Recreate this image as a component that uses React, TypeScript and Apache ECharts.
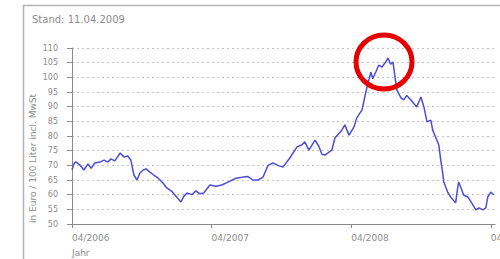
import React, { useEffect, useRef } from 'react';
import * as echarts from 'echarts';

const dates = [
  '2006-04-01','2006-04-06','2006-04-11','2006-04-22','2006-05-02','2006-05-13','2006-05-21','2006-05-31',
  '2006-06-13','2006-06-24','2006-07-04','2006-07-12','2006-07-22','2006-08-05','2006-08-15','2006-08-25',
  '2006-09-02','2006-09-10','2006-09-18','2006-09-26','2006-10-04','2006-10-12','2006-10-22','2006-11-01',
  '2006-11-12','2006-11-25','2006-12-05','2006-12-19','2007-01-01','2007-01-11','2007-01-19','2007-01-27',
  '2007-02-09','2007-02-19','2007-03-02','2007-03-12','2007-03-28','2007-04-13','2007-04-28','2007-05-14',
  '2007-06-04','2007-06-20','2007-07-05','2007-07-18','2007-08-01','2007-08-14','2007-08-27','2007-09-09',
  '2007-09-22','2007-10-05','2007-10-23','2007-11-11','2007-11-24','2007-12-01','2007-12-12','2007-12-28',
  '2008-01-07','2008-01-15','2008-01-23','2008-02-10','2008-02-18','2008-03-07','2008-03-15','2008-03-26',
  '2008-04-08','2008-04-15','2008-04-29','2008-05-09','2008-05-14','2008-05-22','2008-05-27','2008-06-04',
  '2008-06-12','2008-06-20','2008-06-30','2008-07-06','2008-07-13','2008-07-19','2008-07-24','2008-07-29',
  '2008-08-09','2008-08-16','2008-08-24','2008-09-04','2008-09-12','2008-09-19','2008-09-30','2008-10-08',
  '2008-10-16','2008-10-26','2008-10-31','2008-11-08','2008-11-16','2008-11-21','2008-11-26','2008-11-29',
  '2008-12-09','2008-12-17','2008-12-30','2009-01-05','2009-01-07','2009-01-12','2009-01-20','2009-01-31',
  '2009-02-05','2009-02-13','2009-02-21','2009-03-01','2009-03-11','2009-03-19','2009-03-24','2009-04-01',
  '2009-04-09'
];

const prices = [
  68.5, 70.5, 71.2, 70.1, 68.4, 70.5, 69.0, 70.8,
  71.1, 71.8, 71.1, 72.2, 71.5, 74.2, 72.8, 73.2,
  71.8, 66.7, 65.0, 67.4, 68.4, 68.8, 67.7, 66.7,
  65.7, 64.0, 62.3, 61.0, 59.0, 57.5, 59.5, 60.6,
  60.0, 61.3, 60.3, 60.6, 63.3, 62.9, 63.3, 64.3,
  65.6, 65.9, 66.2, 65.0, 65.0, 66.0, 70.0, 70.8,
  70.0, 69.4, 72.5, 76.3, 77.0, 78.0, 75.2, 78.6,
  76.5, 73.8, 73.5, 75.2, 79.3, 82.0, 83.8, 80.3,
  83.1, 86.1, 88.9, 95.0, 97.5, 101.8, 99.5, 101.8,
  104.2, 103.5, 105.2, 106.6, 104.5, 105.2, 100.5, 95.7,
  93.0, 92.3, 93.8, 92.3, 91.0, 89.9, 93.3, 89.9,
  84.8, 85.4, 82.0, 79.5, 76.9, 71.8, 67.4, 64.3,
  60.9, 59.2, 57.2, 63.0, 64.3, 62.6, 59.9, 59.2,
  58.2, 56.5, 54.8, 55.5, 54.8, 55.5, 59.2, 60.9,
  59.9
];

const xTickDates = ['2006-04-01', '2007-04-01', '2008-04-01', '2009-04-01'];
const xMinDate = '2006-04-01';
const xMaxDate = '2009-04-12';
const yMin = 50;
const yMax = 110;
const yStep = 5;
const standText = 'Stand: 11.04.2009';
const yAxisName = 'in Euro / 100 Liter incl. MwSt';
const xAxisName = 'Jahr';

const FONT = '"DejaVu Sans", Verdana, sans-serif';
const DAY = 86400000;
const T0 = Date.parse(xMinDate);
const toDay = (d: string) => Math.round((Date.parse(d) - T0) / DAY);

function fmtMonth(day: number): string {
  const d = new Date(T0 + day * DAY);
  const m = String(d.getUTCMonth() + 1).padStart(2, '0');
  return `${m}/${d.getUTCFullYear()}`;
}

export default function App() {
  const ref = useRef<HTMLDivElement>(null);
  useEffect(() => {
    if (!ref.current) return;
    const chart = echarts.init(ref.current, null, { renderer: 'svg' });
    const seriesData = dates.map((d, i) => [toDay(d), prices[i]]);
    const tickVals = xTickDates.map(toDay);
    const txt = '#8c8c8c';
    chart.setOption({
      animation: false,
      backgroundColor: '#ffffff',
      grid: { left: 72, right: 5, top: 48, bottom: 35, containLabel: false, outerBoundsMode: 'none' },
      xAxis: {
        type: 'value',
        min: 0,
        max: toDay(xMaxDate),
        axisLine: { show: true, lineStyle: { color: '#8a8a8a', width: 1 } },
        axisTick: { show: true, customValues: tickVals, length: 4, lineStyle: { color: '#8a8a8a' } },
        axisLabel: {
          show: true,
          customValues: tickVals,
          formatter: (v: number) => fmtMonth(v),
          align: 'left',
          margin: 9,
          color: txt,
          fontSize: 9,
          fontFamily: FONT,
          hideOverlap: false,
        },
        splitLine: { show: false },
      },
      yAxis: {
        type: 'value',
        min: yMin,
        max: yMax,
        interval: yStep,
        axisLine: { show: true, lineStyle: { color: '#8a8a8a', width: 1 } },
        axisTick: { show: true, length: 5, lineStyle: { color: '#8a8a8a' } },
        axisLabel: { color: txt, fontSize: 8, fontFamily: FONT, margin: 14 },
        splitLine: { show: true, lineStyle: { color: '#c4c4c4', type: [2, 3], width: 1 } },
      },
      series: [
        {
          type: 'line',
          data: seriesData,
          showSymbol: false,
          lineStyle: { color: '#4d4dd6', width: 1.5 },
          itemStyle: { color: '#4d4dd6' },
        },
      ],
      graphic: [
        {
          type: 'rect',
          shape: { x: 23.5, y: 5.5, width: 520, height: 300 },
          style: { fill: 'none', stroke: '#b4b4b4', lineWidth: 1.5 },
          z: 1,
        },
        {
          type: 'text',
          x: 32,
          y: 19,
          style: { text: standText, fill: txt, font: `10px ${FONT}`, textAlign: 'left', textVerticalAlign: 'middle' },
        },
        {
          type: 'text',
          x: 33,
          y: 223,
          rotation: Math.PI / 2,
          style: { text: yAxisName, fill: txt, font: `9px ${FONT}`, textAlign: 'left', textVerticalAlign: 'middle' },
        },
        {
          type: 'text',
          x: 72,
          y: 253,
          style: { text: xAxisName, fill: txt, font: `9px ${FONT}`, textAlign: 'left', textVerticalAlign: 'middle' },
        },
        {
          type: 'ellipse',
          shape: { cx: 384, cy: 62, rx: 28, ry: 27 },
          style: { fill: 'none', stroke: '#e60000', lineWidth: 5 },
          z: 100,
        },
      ],
    });
    return () => chart.dispose();
  }, []);
  return (
    <div
      ref={ref}
      style={{ position: 'fixed', left: 0, top: 0, width: 500, height: 259, background: '#fff' }}
    />
  );
}
